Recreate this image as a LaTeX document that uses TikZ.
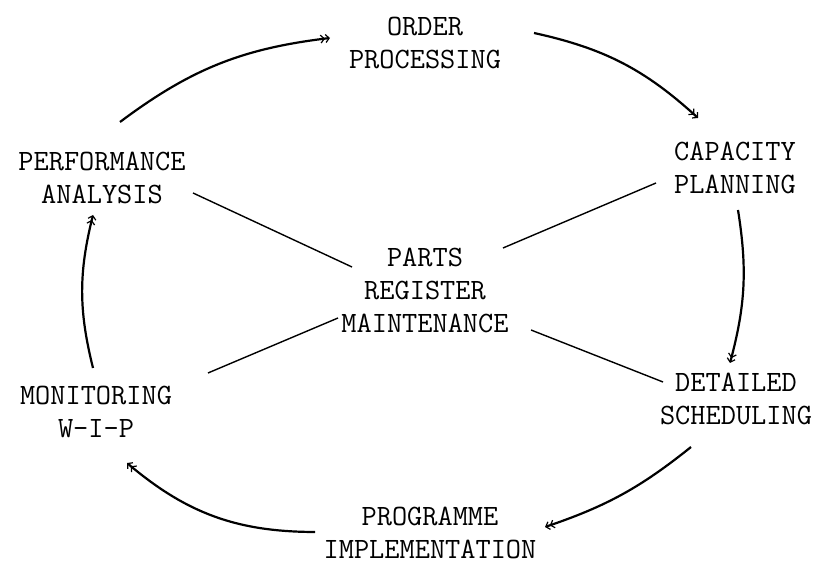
\documentclass[tikz,border=0pt]{standalone}
\usetikzlibrary{arrows.meta}

\tikzset{
  stage/.style={align=center, inner sep=0pt,
    font=\fontsize{14.75pt}{16.5pt}\selectfont\ttfamily},
  flow/.style={line width=1.1pt,
    -{Straight Barb[length=1.8pt,width=4pt,line width=0.6pt]
      Straight Barb[length=1.8pt,width=4pt,line width=0.6pt]}},
  link/.style={line width=0.7pt}
}

\begin{document}
\begin{tikzpicture}[x=0.5pt,y=-0.5pt]
  \useasboundingbox (0,0) rectangle (818,565);

  % the planning stages round the cycle
  \node[stage] (order)     at (425,43)  {ORDER\\PROCESSING};
  \node[stage] (capacity)  at (735,168) {CAPACITY\\PLANNING};
  \node[stage] (detailed)  at (736,399) {DETAILED\\SCHEDULING};
  \node[stage] (programme) at (430,533) {PROGRAMME\\IMPLEMENTATION};
  \node[stage] (monitor)   at (96,412)  {MONITORING\\W-I-P};
  \node[stage] (perf)      at (102,178) {PERFORMANCE\\ANALYSIS};
  % the hub
  \node[stage] (parts)     at (425,290) {PARTS\\REGISTER\\MAINTENANCE};

  % cycle arrows
  \draw[flow] ([shift={(18,-56)}]perf.center)
    to[bend left=15] ([shift={(-95,-5)}]order.center);
  \draw[flow] ([shift={(109,-10)}]order.center)
    to[bend left=15] ([shift={(-37,-50)}]capacity.center);
  \draw[flow] ([shift={(3,42)}]capacity.center)
    to[bend left=12] ([shift={(-6,-36)}]detailed.center);
  \draw[flow] ([shift={(-45,48)}]detailed.center)
    to[bend left=10] ([shift={(115,-6)}]programme.center);
  \draw[flow] ([shift={(-115,-1)}]programme.center)
    to[bend left=20] ([shift={(31,51)}]monitor.center);
  \draw[flow] ([shift={(-3,-44)}]monitor.center)
    to[bend left=14] ([shift={(-9,37)}]perf.center);

  % spokes to the parts register
  \draw[link] ([shift={(91,15)}]perf.center) -- ([shift={(-73,-23)}]parts.center);
  \draw[link] ([shift={(78,-42)}]parts.center) -- ([shift={(-79,15)}]capacity.center);
  \draw[link] ([shift={(-87,28)}]parts.center) -- ([shift={(112,-39)}]monitor.center);
  \draw[link] ([shift={(106,40)}]parts.center) -- ([shift={(-73,-17)}]detailed.center);
\end{tikzpicture}
\end{document}
